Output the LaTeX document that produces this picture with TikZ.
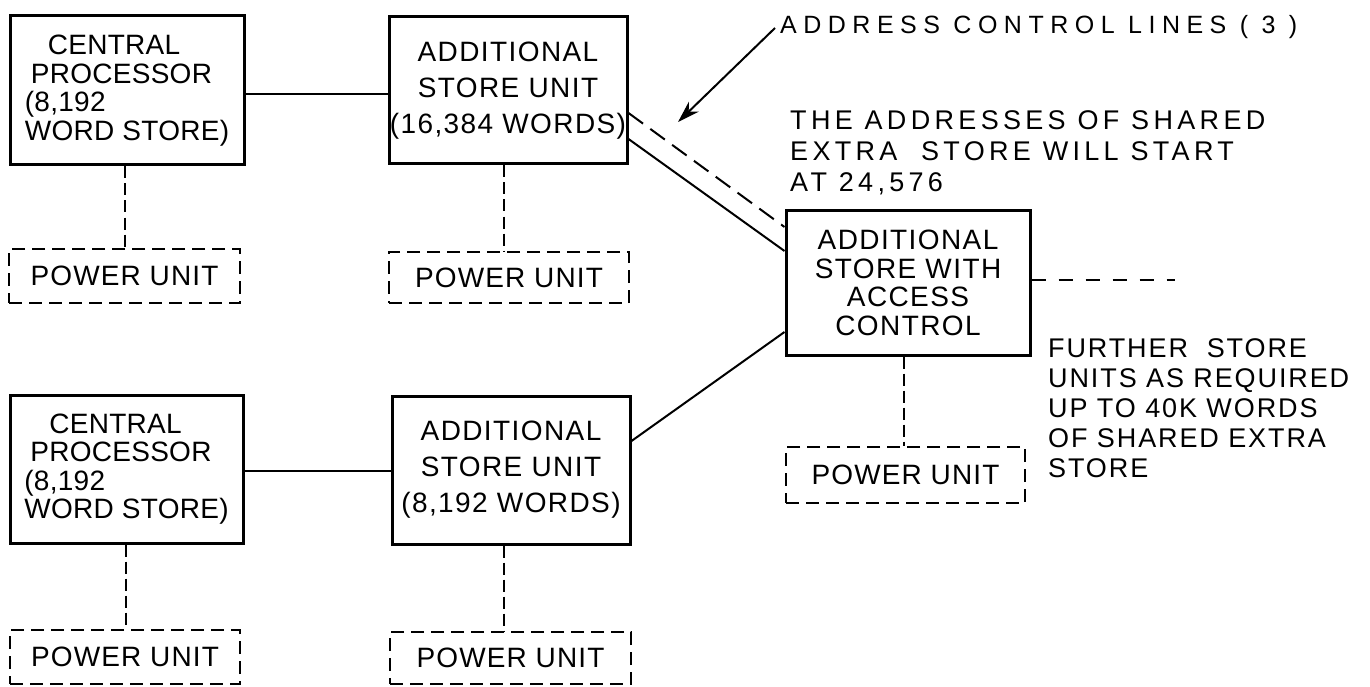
\documentclass[tikz,border=0pt]{standalone}
\usepackage{fontspec}
\setmainfont{Liberation Sans}
\newfontfamily\cpfont{Liberation Sans}[LetterSpace=1]
\newfontfamily\asufont{Liberation Sans}[LetterSpace=5]
\newfontfamily\pufont{Liberation Sans}[LetterSpace=4]
\newfontfamily\addrfont{Liberation Sans}[LetterSpace=26]
\newfontfamily\notefont{Liberation Sans}[LetterSpace=16]
\newfontfamily\furtherfont{Liberation Sans}[LetterSpace=7]
\usetikzlibrary{arrows.meta}
\begin{document}
\begin{tikzpicture}[x=1pt,y=-1pt,
  box/.style={draw, line width=3pt, inner sep=0pt, align=center},
  cpbox/.style={box, align=left, minimum width=234pt, minimum height=149pt, font=\cpfont\fontsize{28}{28.5}\selectfont},
  asubox/.style={box, minimum width=238pt, minimum height=148pt, font=\asufont\fontsize{28}{36}\selectfont},
  pubox/.style={draw, line width=2.4pt, dash pattern=on 13pt off 7pt, inner sep=0pt, font=\pufont\fontsize{28}{28}\selectfont},
  link/.style={line width=2pt},
  dlink/.style={line width=2pt, dash pattern=on 12pt off 5pt},
  note/.style={inner sep=0pt, align=left}
]
\fill[white] (0,0) rectangle (1370,687);
\useasboundingbox (0,0) rectangle (1370,687);

% main boxes
\node[cpbox] (cp1) at (127,90.5) {\hspace*{23pt}CENTRAL\\\hspace*{6pt}PROCESSOR\\(8,192\\WORD STORE)};
\node[asubox, minimum height=147pt] (asu1) at (508,90.5) {ADDITIONAL\\STORE UNIT\\(16,384 WORDS)};
\node[box, minimum width=244pt, minimum height=144pt, font=\asufont\fontsize{28}{28.7}\selectfont] (asc) at (908,283) {ADDITIONAL\\STORE WITH\\ACCESS\\CONTROL};
\node[cpbox, minimum width=233pt, minimum height=148pt] (cp2) at (126.5,469) {\hspace*{25pt}CENTRAL\\\hspace*{6pt}PROCESSOR\\(8,192\\WORD STORE)};
\node[asubox] (asu2) at (511,470) {ADDITIONAL\\STORE UNIT\\(8,192 WORDS)};

% power units
\node[pubox, minimum width=231pt, minimum height=54pt] (pu1) at (124.5,276) {POWER UNIT};
\node[pubox, minimum width=240pt, minimum height=51pt] (pu2) at (509,277.5) {POWER UNIT};
\node[pubox, minimum width=239pt, minimum height=56pt] (pu3) at (905.5,475) {POWER UNIT};
\node[pubox, minimum width=230pt, minimum height=54pt] (pu4) at (125,657) {POWER UNIT};
\node[pubox, minimum width=241pt, minimum height=52pt] (pu5) at (510.5,658) {POWER UNIT};

% annotations
\node[note, anchor=base west, font=\addrfont\fontsize{25}{25}\selectfont] (addr) at (780,34) {ADDRESS CONTROL LINES ( 3 )};
\node[note, anchor=north west, font=\notefont\fontsize{27}{31}\selectfont] (start) at (790,110) {THE ADDRESSES OF SHARED\\EXTRA\ \ STORE WILL START\\AT 24,576};
\node[note, anchor=north west, font=\furtherfont\fontsize{27}{30}\selectfont] (further) at (1048,338) {FURTHER\ \ STORE\\UNITS AS REQUIRED\\UP TO 40K WORDS\\OF SHARED EXTRA\\STORE};

\coordinate (tip) at (678,122);
\coordinate (more) at (1175,280);

% connectors
\draw[link] ([yshift=-3.5pt]cp1.east) -- ([yshift=-3.5pt]cp1.east -| asu1.west);
\draw[link] ([yshift=-2pt]cp2.east) -- ([yshift=-2pt]cp2.east -| asu2.west);
\draw[link] ([yshift=-48.5pt]asu1.east) -- ([yshift=32pt]asc.west);
\draw[link, dash pattern=on 18pt off 9pt] ([yshift=-22.5pt]asu1.east) -- ([yshift=56pt]asc.west);
\draw[link] ([yshift=29pt]asu2.east) -- ([yshift=-49pt]asc.west);
\draw[link, dash pattern=on 14pt off 13pt] ([yshift=3pt]asc.east) -- (more);
\draw[link, -{Stealth[length=22pt,width=14pt]}] ([xshift=-5pt,yshift=6pt]addr.base west) -- (tip);

\draw[dlink] ([xshift=-2pt]cp1.south) -- ([xshift=-2pt]cp1.south |- pu1.north);
\draw[dlink] ([xshift=-4pt]asu1.south) -- ([xshift=-4pt]asu1.south |- pu2.north);
\draw[dlink] ([xshift=-4pt]asc.south) -- ([xshift=-4pt]asc.south |- pu3.north);
\draw[dlink] ([xshift=-0.5pt]cp2.south) -- ([xshift=-0.5pt]cp2.south |- pu4.north);
\draw[dlink] ([xshift=-7pt]asu2.south) -- ([xshift=-7pt]asu2.south |- pu5.north);
\end{tikzpicture}
\end{document}
